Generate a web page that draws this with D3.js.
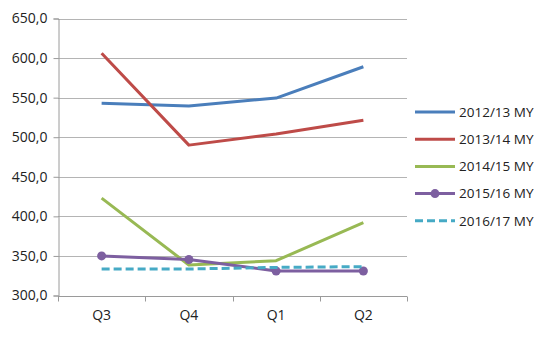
<!DOCTYPE html>
<html>
<head>
<meta charset="utf-8">
<script src="https://cdn.jsdelivr.net/npm/d3@7"></script>
<style>
  html, body { margin: 0; padding: 0; background: #fff; }
  svg text { font-family: "Open Sans", "Liberation Sans", sans-serif; fill: #222; }
</style>
</head>
<body>
<svg id="chart" width="548" height="340"></svg>
<script>
// Quarters of the marketing year
const quarters = ["Q3", "Q4", "Q1", "Q2"];

// Series values per quarter
const my2012 = [543, 539.5, 549.5, 589];
const my2013 = [606, 490, 504, 521.5];
const my2014 = [423, 338.5, 344, 392];
const my2015 = [350, 345.5, 331, 331];
const my2016 = [333.5, 333.5, 335.5, 336.5];

const seriesNames = ["2012/13 MY", "2013/14 MY", "2014/15 MY", "2015/16 MY", "2016/17 MY"];
const seriesValues = [my2012, my2013, my2014, my2015, my2016];

const yTicks = [300, 350, 400, 450, 500, 550, 600, 650];

const colors = ["#4A7EBB", "#BE4B48", "#98B954", "#7D5FA0", "#46AAC5"];
const dashes = [null, null, null, null, "8,4"];
const markers = [false, false, false, true, false];

const svg = d3.select("#chart");
const m = { left: 58, right: 407, top: 18.5, bottom: 295.5 };

const x = d3.scaleBand().domain(quarters).range([m.left, m.right]);
const y = d3.scaleLinear().domain([300, 650]).range([m.bottom, m.top]);
const fmt = v => d3.format(".1f")(v).replace(".", ",");

// Horizontal gridlines
svg.append("g")
  .selectAll("line")
  .data(yTicks.filter(t => t > 300))
  .join("line")
  .attr("x1", m.left).attr("x2", m.right)
  .attr("y1", d => Math.round(y(d)) + 0.5).attr("y2", d => Math.round(y(d)) + 0.5)
  .attr("stroke", "#b4b4b4").attr("stroke-width", 1);

// Y axis
const yAxis = svg.append("g")
  .attr("transform", `translate(${m.left + 0.5},0)`)
  .call(d3.axisLeft(y).tickValues(yTicks).tickFormat(fmt).tickSize(5).tickPadding(6));
yAxis.select(".domain").attr("stroke", "#9a9a9a");
yAxis.selectAll(".tick line").attr("stroke", "#9a9a9a");
yAxis.selectAll("text").style("font-size", "14px").attr("fill", "#222");

// X axis with tick marks at category boundaries
const xAxis = svg.append("g")
  .attr("transform", `translate(0,${Math.round(m.bottom) + 0.5})`);
xAxis.append("line")
  .attr("x1", m.left).attr("x2", m.right)
  .attr("stroke", "#9a9a9a");
const bounds = quarters.map(q => x(q)).concat([x(quarters[quarters.length - 1]) + x.bandwidth()]);
xAxis.selectAll("line.tick")
  .data(bounds)
  .join("line")
  .attr("class", "tick")
  .attr("x1", d => Math.round(d) + 0.5).attr("x2", d => Math.round(d) + 0.5)
  .attr("y1", 0).attr("y2", 5)
  .attr("stroke", "#9a9a9a");
xAxis.selectAll("text")
  .data(quarters)
  .join("text")
  .attr("x", d => x(d) + x.bandwidth() / 2)
  .attr("y", 23)
  .attr("text-anchor", "middle")
  .style("font-size", "14px")
  .text(d => d);

// Series lines
const line = d3.line()
  .x((d, i) => x(quarters[i]) + x.bandwidth() / 2)
  .y(d => y(d));

seriesValues.forEach((vals, s) => {
  svg.append("path")
    .datum(vals)
    .attr("d", line)
    .attr("fill", "none")
    .attr("stroke", colors[s])
    .attr("stroke-width", 3)
    .attr("stroke-linejoin", "round")
    .attr("stroke-dasharray", dashes[s]);
  if (markers[s]) {
    svg.append("g").selectAll("circle")
      .data(vals)
      .join("circle")
      .attr("cx", (d, i) => x(quarters[i]) + x.bandwidth() / 2)
      .attr("cy", d => y(d))
      .attr("r", 4.5)
      .attr("fill", colors[s]);
  }
});

// Legend
const legend = svg.append("g").attr("transform", "translate(415,112)");
seriesNames.forEach((name, s) => {
  const g = legend.append("g").attr("transform", `translate(0,${s * 27.2})`);
  g.append("line")
    .attr("x1", 0).attr("x2", 40)
    .attr("y1", 0).attr("y2", 0)
    .attr("stroke", colors[s])
    .attr("stroke-width", 3)
    .attr("stroke-dasharray", dashes[s]);
  if (markers[s]) {
    g.append("circle").attr("cx", 20).attr("cy", 0).attr("r", 4.5).attr("fill", colors[s]);
  }
  g.append("text")
    .attr("x", 44)
    .attr("y", 0)
    .attr("dy", "0.36em")
    .style("font-size", "13.5px")
    .text(name);
});
</script>
</body>
</html>
